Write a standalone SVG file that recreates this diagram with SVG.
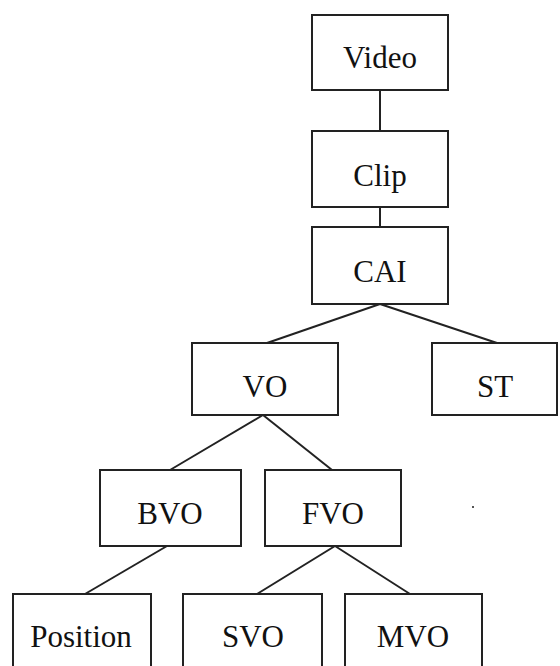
<svg xmlns="http://www.w3.org/2000/svg" width="560" height="666" viewBox="0 0 560 666">
<style>
.box{fill:#fff;stroke:#222;stroke-width:2}
.lbl{font-family:"Liberation Serif","Times New Roman",serif;font-size:31px;fill:#111;text-anchor:middle}
.edge{stroke:#222;stroke-width:2;fill:none}
</style>
<rect x="0" y="0" width="560" height="666" fill="#fff"/>
<g id="connectors">
<line class="edge" x1="380" y1="90" x2="380" y2="131"/>
<line class="edge" x1="380" y1="207" x2="380" y2="227"/>
<line class="edge" x1="380" y1="304" x2="267" y2="343"/>
<line class="edge" x1="380" y1="304" x2="497" y2="343"/>
<line class="edge" x1="263" y1="415" x2="170" y2="470"/>
<line class="edge" x1="263" y1="415" x2="332" y2="470"/>
<line class="edge" x1="167" y1="546" x2="85" y2="594"/>
<line class="edge" x1="335" y1="546" x2="257" y2="594"/>
<line class="edge" x1="335" y1="546" x2="410" y2="594"/>
</g>
<g id="video"><rect class="box" x="312" y="15" width="136" height="75"/><text class="lbl" x="380" y="68">Video</text></g>
<g id="clip"><rect class="box" x="312" y="131" width="136" height="76"/><text class="lbl" x="380" y="186">Clip</text></g>
<g id="cai"><rect class="box" x="312" y="227" width="136" height="77"/><text class="lbl" x="380" y="282">CAI</text></g>
<g id="vo"><rect class="box" x="192" y="343" width="146" height="72"/><text class="lbl" x="265" y="397">VO</text></g>
<g id="st"><rect class="box" x="432" y="343" width="125" height="72"/><text class="lbl" x="495" y="397">ST</text></g>
<g id="bvo"><rect class="box" x="100" y="470" width="141" height="76"/><text class="lbl" x="170" y="524">BVO</text></g>
<g id="fvo"><rect class="box" x="265" y="470" width="136" height="76"/><text class="lbl" x="333" y="524">FVO</text></g>
<g id="position"><rect class="box" x="13" y="594" width="138" height="80"/><text class="lbl" x="81" y="647">Position</text></g>
<g id="svo"><rect class="box" x="183" y="594" width="139" height="80"/><text class="lbl" x="253" y="647">SVO</text></g>
<g id="mvo"><rect class="box" x="345" y="594" width="137" height="80"/><text class="lbl" x="413" y="647">MVO</text></g>
<rect x="472" y="506" width="2" height="2" fill="#555"/>
</svg>
